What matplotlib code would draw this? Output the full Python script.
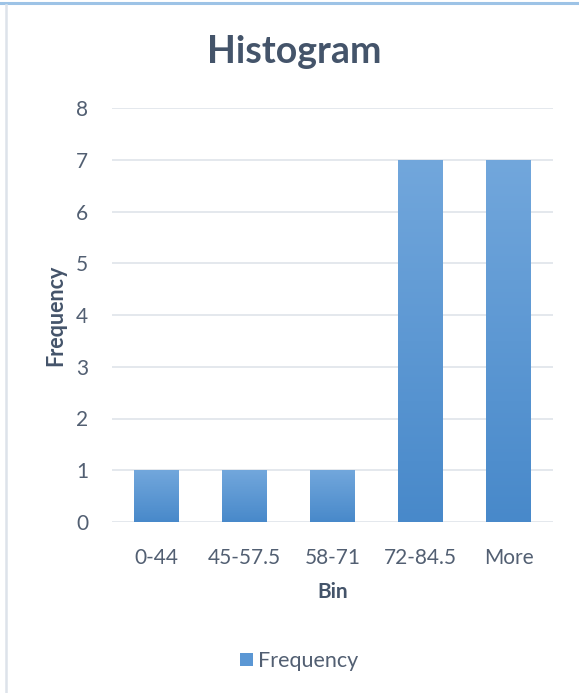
import numpy as np
import matplotlib
matplotlib.use('Agg')
from matplotlib import pyplot as plt
from matplotlib.lines import Line2D
from matplotlib.patches import Patch

# histogram counts per bin
bins = ['0-44', '45-57.5', '58-71', '72-84.5', 'More']
frequency = [1, 1, 1, 7, 7]
y_ticks = [0, 1, 2, 3, 4, 5, 6, 7, 8]

plt.rcParams['font.family'] = ['Lato', 'DejaVu Sans']

title_color = '#44546A'
text_color = '#525F72'
grid_color = '#DDE1E8'
top_color = '#72A7DC'
bottom_color = '#4889CA'

fig = plt.figure(figsize=(5.79, 6.93), dpi=100)
ax = fig.add_axes([112/579, 1 - 522/693, 441/579, 414/693])

x = np.arange(len(bins))
bars = ax.bar(x, frequency, width=0.51, color=bottom_color, zorder=2)

# vertical gradient inside each bar, light at the top and darker at the bottom
grad = np.linspace(0, 1, 256).reshape(-1, 1)
cmap = matplotlib.colors.LinearSegmentedColormap.from_list('bar', [bottom_color, top_color])
for b in bars:
    x0, w, h = b.get_x(), b.get_width(), b.get_height()
    im = ax.imshow(grad, extent=[x0, x0 + w, 0, h], origin='lower', aspect='auto',
                   cmap=cmap, zorder=3)
    im.set_clip_path(b)

ax.set_xlim(-0.5, len(bins) - 0.5)
ax.set_ylim(0, 8)
ax.set_yticks(y_ticks)
ax.set_xticks(x)
ax.set_xticklabels(bins)
ax.yaxis.grid(True, color=grid_color, linewidth=1.1, zorder=0)
ax.set_axisbelow(True)
for s in ax.spines.values():
    s.set_visible(False)
ax.tick_params(axis='both', length=0, labelsize=15, colors=text_color)
ax.tick_params(axis='x', pad=19)
ax.tick_params(axis='y', pad=17)

fig.text(294/579, 1 - 52/693, 'Histogram', fontsize=27, fontweight='bold',
         color=title_color, ha='center', va='center')
ax.set_xlabel('Bin', fontsize=15, fontweight='bold', color=title_color, labelpad=10)
ax.set_ylabel('Frequency', fontsize=15.5, fontweight='bold', color=title_color, labelpad=7)

leg = fig.legend(handles=[Patch(facecolor='#5B97D4', edgecolor='none', label='Frequency')],
                 loc='center', bbox_to_anchor=(299/579, 1 - 661/693), frameon=False,
                 fontsize=15.5, handlelength=0.6, handleheight=0.6, handletextpad=0.25)
for t in leg.get_texts():
    t.set_color(text_color)

# chart frame edges
fig.add_artist(Line2D([0, 1], [1 - 3/693, 1 - 3/693], transform=fig.transFigure,
                      color='#9DC3E6', linewidth=2.2))
fig.add_artist(Line2D([6/579, 6/579], [0, 1 - 5/693], transform=fig.transFigure,
                      color='#DDE3EA', linewidth=1.8))

fig.savefig('out.png', dpi=100)
